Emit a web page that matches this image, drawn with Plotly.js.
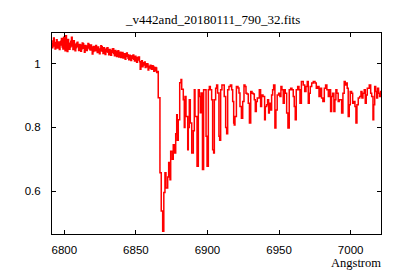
<!DOCTYPE html>
<html>
<head>
<meta charset="utf-8">
<script src="https://cdn.plot.ly/plotly-3.0.1.min.js"></script>
<style>html,body{margin:0;padding:0;background:#fff;}#chart{width:400px;height:280px;}</style>
</head>
<body>
<div id="chart"></div>
<script>
const chartTitle = "_v442and_20180111_790_32.fits";
const xLabel = "Angstrom";
const xTicks = [6800, 6850, 6900, 6950, 7000];
const yTicks = [0.6, 0.8, 1];
const yTickText = ["0.6", "0.8", "1"];

const wavelength = [
6791,6791.5,6792,6792.5,6793,6793.5,6794,6794.5,6795,6795.5,
6796,6796.5,6797,6797.5,6798,6798.5,6799,6799.5,6800,6800.5,
6801,6801.5,6802,6802.5,6803,6803.5,6804,6804.5,6805,6805.5,
6806,6806.5,6807,6807.5,6808,6808.5,6809,6809.5,6810,6810.5,
6811,6811.5,6812,6812.5,6813,6813.5,6814,6814.5,6815,6815.5,
6816,6816.5,6817,6817.5,6818,6818.5,6819,6819.5,6820,6820.5,
6821,6821.5,6822,6822.5,6823,6823.5,6824,6824.5,6825,6825.5,
6826,6826.5,6827,6827.5,6828,6828.5,6829,6829.5,6830,6830.5,
6831,6831.5,6832,6832.5,6833,6833.5,6834,6834.5,6835,6835.5,
6836,6836.5,6837,6837.5,6838,6838.5,6839,6839.5,6840,6840.5,
6841,6841.5,6842,6842.5,6843,6843.5,6844,6844.5,6845,6845.5,
6846,6846.5,6847,6847.5,6848,6848.5,6849,6849.5,6850,6850.5,
6851,6851.5,6852,6852.5,6853,6853.5,6854,6854.5,6855,6855.5,
6856,6856.5,6857,6857.5,6858,6858.5,6859,6859.5,6860,6860.5,
6861,6861.5,6862,6862.5,6863,6863.5,6864,6864.5,6865,
6865.6,6866.8,6867.7,6868.7,6869.5,6870.3,6871.0,6872.2,6872.9,6873.8,
6874.3,6875.4,6876.1,6876.8,6877.8,6878.5,6878.9,6879.6,6880.6,6881.5,
6882.0,6883.1,6883.8,6884.3,6885.0,6886.2,6886.6,6887.3,6888.0,6889.0,
6890.1,6890.8,6891.3,6892.7,6893.6,6894.3,6895.0,6895.5,6896.5,6897.3,
6898.3,6899.0,6899.7,6900.6,6901.3,6902.0,6902.9,6903.6,6904.3,6904.8,
6905.7,6906.4,6907.1,6908.0,6908.5,6909.2,6910.1,6911.0,6911.7,6912.7,
6913.4,6914.1,6915.0,6916.0,6916.9,6917.6,6918.3,6918.7,6919.2,6920.2,
6921.3,6922.0,6922.7,6923.7,6924.6,6925.5,6926.2,6926.9,6927.6,6928.5,
6929.3,6930.2,6931.1,6932.0,6932.7,6933.4,6934.1,6934.8,6936.2,6937.1,
6937.8,6938.8,6939.9,6940.4,6941.3,6942.0,6942.7,6943.2,6943.9,6944.8,
6945.5,6946.2,6947.1,6947.8,6948.7,6949.7,6950.6,6951.3,6952.0,6952.9,
6953.6,6954.3,6955.3,6956.2,6957.1,6958.1,6959.0,6959.9,6960.6,6961.3,
6962.0,6963.0,6963.9,6964.6,6965.6,6966.9,6967.9,6968.8,6969.7,6970.4,
6971.1,6971.8,6972.8,6973.9,6975.1,6976.0,6977.0,6977.9,6978.8,6979.7,
6980.6,6981.6,6982.5,6983.4,6984.4,6985.3,6986.0,6986.7,6987.4,6988.3,
6989.0,6989.7,6990.4,6991.3,6992.0,6993.0,6993.7,6994.6,6995.5,6996.2,
6996.9,6997.6,6998.3,6999.0,6999.7,7000.7,7001.4,7002.1,7003.0,7003.7,
7004.4,7005.3,7006.3,7007.2,7007.9,7008.6,7009.5,7010.2,7010.9,7011.6,
7012.3,7013.0,7014.0,7014.7,7015.6,7016.1,7016.8,7017.5,7018.2,7018.8,
7019.5,7020.2,7020.9,7021.5
];

const flux = [
1.062,1.050,1.071,1.080,1.055,1.046,1.066,1.075,1.049,1.058,
1.068,1.044,1.058,1.070,1.079,1.052,1.046,1.083,1.072,1.040,
1.087,1.062,1.038,1.076,1.064,1.045,1.052,1.070,1.083,1.055,
1.044,1.072,1.061,1.040,1.050,1.064,1.067,1.053,1.041,1.060,
1.058,1.039,1.047,1.065,1.062,1.048,1.036,1.057,1.055,1.041,
1.049,1.063,1.060,1.046,1.043,1.058,1.052,1.030,1.038,1.054,
1.048,1.040,1.057,1.044,1.035,1.052,1.046,1.031,1.040,1.056,
1.053,1.039,1.032,1.050,1.045,1.029,1.037,1.048,1.050,1.036,
1.028,1.044,1.041,1.026,1.035,1.046,1.047,1.032,1.025,1.041,
1.038,1.022,1.030,1.040,1.021,1.032,1.036,1.019,1.027,1.035,
1.018,1.026,1.031,1.014,1.022,1.033,1.028,1.017,1.012,1.026,
1.024,1.010,1.016,1.025,1.027,1.014,1.008,1.023,1.019,1.004,
1.011,1.020,1.021,1.006,0.982,0.995,1.009,0.990,0.996,1.003,
1.005,0.988,0.990,1.000,0.999,0.980,0.986,0.992,0.995,0.984,
0.982,0.993,0.991,0.976,0.978,0.988,0.986,0.972,0.975,
0.893,0.658,0.538,0.475,0.596,0.658,0.610,0.645,0.690,0.636,
0.725,0.700,0.746,0.720,0.780,0.840,0.760,0.824,0.940,0.950,
0.920,0.887,0.800,0.897,0.834,0.730,0.800,0.887,0.814,0.720,
0.790,0.918,0.834,0.678,0.918,0.897,0.846,0.908,0.668,0.918,
0.918,0.772,0.678,0.918,0.928,0.918,0.887,0.730,0.720,0.887,
0.923,0.933,0.908,0.772,0.760,0.918,0.933,0.933,0.897,0.800,
0.780,0.918,0.928,0.933,0.918,0.881,0.814,0.808,0.834,0.928,
0.924,0.908,0.866,0.829,0.881,0.933,0.928,0.907,0.905,0.876,
0.814,0.913,0.907,0.905,0.887,0.850,0.881,0.892,0.918,0.866,
0.902,0.897,0.824,0.866,0.871,0.887,0.845,0.876,0.855,0.902,
0.918,0.933,0.798,0.855,0.902,0.907,0.897,0.928,0.918,0.876,
0.918,0.907,0.845,0.798,0.918,0.923,0.918,0.897,0.866,0.824,
0.918,0.928,0.918,0.876,0.944,0.933,0.913,0.928,0.944,0.876,
0.907,0.928,0.939,0.944,0.939,0.923,0.928,0.897,0.923,0.892,
0.881,0.923,0.933,0.918,0.897,0.918,0.850,0.897,0.907,0.850,
0.887,0.918,0.907,0.881,0.887,0.887,0.845,0.907,0.944,0.933,
0.939,0.923,0.834,0.871,0.913,0.907,0.876,0.881,0.866,0.814,
0.871,0.892,0.897,0.913,0.892,0.907,0.918,0.876,0.902,0.923,
0.923,0.933,0.907,0.897,0.824,0.871,0.928,0.913,0.892,0.923,
0.907,0.897,0.913,0.905
];

const trace = {
  x: wavelength,
  y: flux,
  type: "scatter",
  mode: "lines",
  line: {color: "#ff0000", width: 1.5, shape: "hv"},
  hoverinfo: "none"
};

const axisCommon = {
  showline: true, linecolor: "#000", linewidth: 1, mirror: "allticks",
  ticks: "inside", ticklen: 4, tickcolor: "#000", tickwidth: 1,
  showgrid: false, zeroline: false,
  tickfont: {family: "Liberation Sans, Arial, sans-serif", size: 11.5, color: "#000"}
};

const layout = {
  width: 400, height: 280,
  margin: {l: 52, r: 19, t: 33, b: 46, pad: 0},
  paper_bgcolor: "#fff", plot_bgcolor: "#fff",
  showlegend: false,
  title: {
    text: chartTitle,
    font: {family: "Liberation Serif, Times New Roman, serif", size: 13, color: "#000"},
    x: 0.533, xanchor: "center", y: 0.932, yanchor: "middle", xref: "container", yref: "container"
  },
  xaxis: Object.assign({}, axisCommon, {
    range: [6791.4, 7021.2],
    tickvals: xTicks,
    ticktext: xTicks.map(String),
    ticklabelstandoff: 5
  }),
  yaxis: Object.assign({}, axisCommon, {
    range: [0.466, 1.096],
    tickvals: yTicks,
    ticktext: yTickText,
    ticklabelstandoff: 8
  }),
  annotations: [{
    text: xLabel, xref: "paper", yref: "paper", x: 1.005, y: 0,
    xanchor: "right", yanchor: "top", yshift: -20, showarrow: false,
    font: {family: "Liberation Serif, Times New Roman, serif", size: 12.5, color: "#000"}
  }]
};

Plotly.newPlot("chart", [trace], layout, {staticPlot: true, displayModeBar: false});
</script>
</body>
</html>
